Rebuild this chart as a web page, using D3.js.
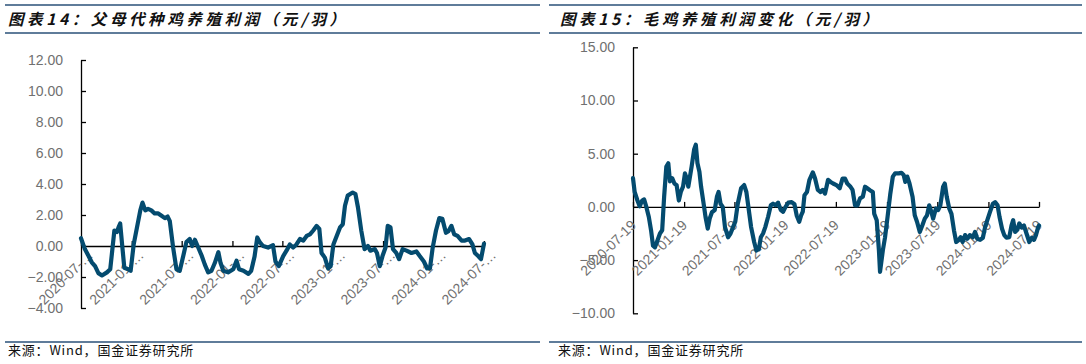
<!DOCTYPE html>
<html><head><meta charset="utf-8">
<script src="https://cdn.jsdelivr.net/npm/d3@7"></script>
<style>
html,body{margin:0;padding:0;background:#fff;}
svg{display:block;}
</style></head>
<body>
<svg id="c" width="1086" height="364"></svg>
<script>
// ---------- Chart 14: 父母代种鸡养殖利润 ----------
const title14 = "图表14：父母代种鸡养殖利润（元/羽）";
const dates14 = ["2020-07-01","2020-07-15","2020-07-27","2020-08-09","2020-08-21","2020-09-02","2020-09-15","2020-10-03","2020-10-15","2020-10-21","2020-10-30","2020-11-08","2020-11-14","2020-11-20","2020-11-26","2020-12-05","2020-12-19","2020-12-28","2021-01-08","2021-01-20","2021-02-01","2021-02-09","2021-02-19","2021-03-01","2021-03-13","2021-03-25","2021-04-07","2021-04-19","2021-05-01","2021-05-11","2021-05-19","2021-05-31","2021-06-12","2021-06-24","2021-07-06","2021-07-18","2021-07-30","2021-08-08","2021-08-18","2021-08-30","2021-09-11","2021-09-23","2021-10-05","2021-10-17","2021-10-29","2021-11-11","2021-11-19","2021-11-29","2021-12-16","2022-01-04","2022-01-16","2022-01-25","2022-02-10","2022-02-28","2022-03-10","2022-03-22","2022-04-01","2022-04-10","2022-04-22","2022-05-10","2022-05-28","2022-06-06","2022-06-18","2022-07-04","2022-07-16","2022-07-28","2022-08-09","2022-08-21","2022-09-03","2022-09-15","2022-09-27","2022-10-09","2022-10-21","2022-11-02","2022-11-12","2022-11-20","2022-12-02","2022-12-14","2022-12-23","2023-01-02","2023-01-14","2023-01-26","2023-02-05","2023-02-13","2023-02-23","2023-03-04","2023-03-13","2023-03-23","2023-04-01","2023-04-13","2023-04-25","2023-05-07","2023-05-16","2023-06-01","2023-06-09","2023-06-19","2023-06-29","2023-07-10","2023-07-18","2023-07-28","2023-08-06","2023-08-18","2023-08-28","2023-09-10","2023-09-24","2023-10-12","2023-10-30","2023-11-11","2023-11-26","2023-12-08","2023-12-18","2023-12-28","2024-01-09","2024-01-21","2024-02-01","2024-02-14","2024-02-23","2024-03-05","2024-03-15","2024-03-27","2024-04-11","2024-04-23","2024-05-08","2024-05-20","2024-05-29","2024-06-10","2024-06-20","2024-07-01"];
const values14 = [0.5,-0.2,-0.6,-1.05,-1.3,-1.75,-1.9,-1.7,-1.5,-0.5,1.0,0.9,1.2,1.45,0.3,-1.4,-1.5,-1.6,0.1,1.2,2.3,2.8,2.3,2.4,2.3,2.1,2.1,1.95,1.8,1.9,1.6,-0.1,-1.5,-1.6,-0.7,0.25,0.45,0,0.4,-0.1,-0.6,-1.2,-1.7,-1.6,-1.1,-0.4,-1.1,-1.6,-1.7,-1.5,-0.95,-1.5,-1.6,-1.8,-1.6,-0.7,0.55,0.25,0,-0.1,0.05,-1.0,-1.3,-0.65,-0.3,0.1,-0.1,0.1,0.45,0.35,0.65,0.75,1.0,1.3,1.1,-0.45,-0.75,-1.45,-1.3,0.1,0.65,1.2,1.4,2.6,3.25,3.35,3.45,3.35,2.5,1.0,-0.2,0,-0.3,-0.2,-0.45,-1.3,-0.65,-0.1,1.3,1.2,-0.2,-0.45,-0.85,-0.2,-0.3,-0.45,-0.35,-0.65,-1.0,-1.45,-1.45,-0.1,1.0,1.8,1.75,0.85,0.95,1.3,0.75,0.65,0.35,0.35,0.45,0.1,-0.45,-0.65,-0.85,0.15];
const yTicks14 = [-4,-2,0,2,4,6,8,10,12];
const xTickDates14 = ["2020-07-01","2021-01-01","2021-07-01","2022-01-01","2022-07-01","2023-01-01","2023-07-01","2024-01-01","2024-07-01"];
const xTickLabels14 = ["2020-07-…","2021-01-…","2021-07-…","2022-01-…","2022-07-…","2023-01-…","2023-07-…","2024-01-…","2024-07-…"];

// ---------- Chart 15: 毛鸡养殖利润变化 ----------
const title15 = "图表15：毛鸡养殖利润变化（元/羽）";
const dates15 = ["2020-07-19","2020-07-25","2020-08-04","2020-08-12","2020-08-21","2020-08-28","2020-09-05","2020-09-14","2020-09-22","2020-09-29","2020-10-06","2020-10-15","2020-10-24","2020-11-01","2020-11-08","2020-11-16","2020-11-23","2020-11-29","2020-12-07","2020-12-15","2020-12-23","2020-12-31","2021-01-07","2021-01-15","2021-01-22","2021-01-28","2021-02-03","2021-02-09","2021-02-15","2021-02-24","2021-03-02","2021-03-08","2021-03-15","2021-03-21","2021-03-31","2021-04-06","2021-04-14","2021-04-21","2021-04-29","2021-05-09","2021-05-17","2021-05-23","2021-05-30","2021-06-07","2021-06-15","2021-06-26","2021-07-05","2021-07-14","2021-07-22","2021-07-31","2021-08-12","2021-08-23","2021-08-31","2021-09-08","2021-09-17","2021-09-28","2021-10-06","2021-10-15","2021-10-22","2021-10-30","2021-11-07","2021-11-17","2021-11-27","2021-12-05","2021-12-14","2021-12-23","2022-01-02","2022-01-10","2022-01-19","2022-01-29","2022-02-10","2022-02-20","2022-02-28","2022-03-09","2022-03-16","2022-03-22","2022-03-28","2022-04-06","2022-04-15","2022-04-27","2022-05-05","2022-05-15","2022-05-25","2022-06-02","2022-06-10","2022-06-21","2022-06-30","2022-07-09","2022-07-21","2022-08-02","2022-08-12","2022-08-21","2022-08-29","2022-09-08","2022-09-17","2022-09-26","2022-10-05","2022-10-14","2022-10-24","2022-11-01","2022-11-09","2022-11-20","2022-11-29","2022-12-04","2022-12-13","2022-12-21","2022-12-25","2023-01-04","2023-01-12","2023-01-21","2023-01-31","2023-02-09","2023-02-17","2023-03-02","2023-03-12","2023-03-20","2023-03-26","2023-04-02","2023-04-10","2023-04-21","2023-04-29","2023-05-07","2023-05-17","2023-05-26","2023-06-04","2023-06-12","2023-06-20","2023-06-28","2023-07-04","2023-07-14","2023-07-22","2023-07-30","2023-08-09","2023-08-15","2023-08-22","2023-08-31","2023-09-08","2023-09-17","2023-09-25","2023-10-03","2023-10-11","2023-10-18","2023-10-27","2023-11-04","2023-11-13","2023-11-24","2023-12-02","2023-12-10","2023-12-20","2023-12-30","2024-01-07","2024-01-15","2024-01-25","2024-02-04","2024-02-12","2024-02-21","2024-02-28","2024-03-08","2024-03-16","2024-03-24","2024-04-03","2024-04-11","2024-04-17","2024-04-24","2024-05-02","2024-05-09","2024-05-18","2024-05-26","2024-06-04","2024-06-14","2024-06-23","2024-07-01","2024-07-08","2024-07-16","2024-07-19"];
const values15 = [2.7,1.4,0.6,0.05,0.6,0.7,0,-0.95,-2.2,-3.65,-3.8,-3.15,-2.5,-2.2,0.95,3.8,4.1,2.4,2.7,2.2,2.05,0.6,1.4,1.9,3.15,2.7,1.9,2.85,3.8,5.4,5.85,4.1,3.3,1.9,0.15,-0.95,-2.05,-1.1,-0.5,-0.3,0.95,1.4,0.3,0,-1.9,-2.85,-2.5,-1.9,-1.4,0.3,1.75,2.05,1.4,-0.15,-1.9,-3.3,-4.1,-3.95,-2.85,-2.5,-1.9,-0.95,0.15,0.3,0.15,0.4,-0.3,-0.45,0,0.4,0.45,0.25,-0.8,-1.4,-0.8,-0.45,1.1,1.4,2.55,3.25,2.7,1.6,1.4,1.6,1.25,2.55,2.35,2.2,2.05,1.75,2.65,2.65,2.2,1.95,1.6,0.15,0.15,0.8,0.95,1.9,1.75,1.55,1.4,-0.65,-1.25,-4.1,-6.1,-4.1,-2.85,-0.95,1.25,2.85,3.15,3.15,3.2,3.0,2.35,2.85,2.2,0.95,-0.8,-1.4,-2.35,-1.75,-1.1,-0.8,0.15,-0.5,-1.1,-0.15,-0.3,0.15,1.9,2.2,0.95,-0.15,-0.65,-2.2,-3.3,-3.15,-2.85,-3.3,-2.65,-3.0,-2.65,-2.85,-2.35,-3.0,-3.1,-2.9,-1.9,-1.25,-0.45,0.3,0.45,0.15,-0.95,-2.05,-2.65,-2.9,-2.85,-1.75,-1.25,-2.35,-2.15,-1.55,-1.95,-1.75,-2.5,-3.3,-2.9,-3.1,-2.65,-1.9,-1.75];
const yTicks15 = [-10,-5,0,5,10,15];
const xTickDates15 = ["2020-07-19","2021-01-19","2021-07-19","2022-01-19","2022-07-19","2023-01-19","2023-07-19","2024-01-19","2024-07-19"];
const xTickLabels15 = ["2020-07-19","2021-01-19","2021-07-19","2022-01-19","2022-07-19","2023-01-19","2023-07-19","2024-01-19","2024-07-19"];

const source = "来源：Wind，国金证券研究所";

// ---------- drawing ----------
const svg = d3.select("#c");
const parse = d3.timeParse("%Y-%m-%d");
const LINE = "#044b6f", RULE = "#2a5078", LABEL = "#707070";
const FONT = "'Liberation Sans', Arial, sans-serif";
const CJK = "'Noto Sans CJK SC', sans-serif";

function panel(o) {
  const g = svg.append("g");
  g.append("line").attr("x1", o.ruleX0).attr("x2", o.ruleX1).attr("y1", 5).attr("y2", 5)
    .attr("stroke", RULE).attr("stroke-width", 1.6);
  g.append("line").attr("x1", o.ruleX0).attr("x2", o.ruleX1).attr("y1", 33).attr("y2", 33)
    .attr("stroke", RULE).attr("stroke-width", 1.6);
  g.append("text").attr("x", o.titleX).attr("y", 25).text(o.title)
    .attr("font-family", CJK).attr("font-size", 15.5).attr("font-weight", 700)
    .attr("font-style", "italic").attr("letter-spacing", o.titleSpacing).attr("fill", "#111");
  g.append("line").attr("x1", o.ruleX0).attr("x2", o.ruleX1).attr("y1", 342).attr("y2", 342)
    .attr("stroke", RULE).attr("stroke-width", 1.4);
  g.append("text").attr("x", o.sourceX).attr("y", 355).text(source)
    .attr("font-family", CJK).attr("font-size", 13).attr("letter-spacing", 0.8).attr("fill", "#111");

  const x = d3.scaleTime().domain(o.xDomain.map(parse)).range(o.xRange);
  const y = d3.scaleLinear().domain(o.yDomain).range(o.yRange);

  const ya = d3.axisLeft(y).tickValues(o.yTicks).tickSizeInner(-5).tickSizeOuter(0)
    .tickPadding(18).tickFormat(d3.format(".2f"));
  const yg = g.append("g").attr("transform", `translate(${o.xRange[0]},0)`).call(ya);
  yg.select(".domain").attr("stroke", "#000").attr("stroke-width", 1.3);
  yg.selectAll(".tick line").attr("stroke", "#000").attr("stroke-width", 1.3);
  yg.selectAll(".tick text").attr("font-family", FONT).attr("font-size", 14).attr("fill", LABEL);

  const xa = d3.axisBottom(x).tickValues(o.xTicks.map(parse)).tickSizeInner(-5).tickSizeOuter(0).tickFormat("");
  const xg = g.append("g").attr("transform", `translate(0,${y(0)})`).call(xa);
  xg.select(".domain").attr("stroke", "#000").attr("stroke-width", 1.3);
  xg.selectAll(".tick line").attr("stroke", "#000").attr("stroke-width", 1.3);

  g.append("g").selectAll("text").data(o.xTicks).join("text")
    .attr("transform", d => `translate(${x(parse(d)) + o.lblDx},${y(0) + o.lblDy}) rotate(-45)`)
    .attr("text-anchor", "end")
    .attr("font-family", FONT).attr("font-size", 14).attr("fill", LABEL)
    .text((d, i) => o.xLabels[i]);

  const pts = o.dates.map((d, i) => [parse(d), o.values[i]]);
  g.append("path").datum(pts)
    .attr("fill", "none").attr("stroke", LINE).attr("stroke-width", 4.2)
    .attr("stroke-linejoin", "round").attr("stroke-linecap", "round")
    .attr("d", d3.line().x(d => x(d[0])).y(d => y(d[1])));
}

panel({
  title: title14, titleX: 8, titleSpacing: 3.6, ruleX0: 5, ruleX1: 540, sourceX: 8,
  xDomain: ["2020-07-01", "2024-07-01"], xRange: [81, 484],
  yDomain: [-4, 12], yRange: [308, 60], yTicks: yTicks14,
  xTicks: xTickDates14, xLabels: xTickLabels14, lblDx: 13, lblDy: 10,
  dates: dates14, values: values14
});
panel({
  title: title15, titleX: 560, titleSpacing: 3.6, ruleX0: 549, ruleX1: 1082, sourceX: 558,
  xDomain: ["2020-07-19", "2024-07-19"], xRange: [633, 1039],
  yDomain: [-10, 15], yRange: [313.3, 47.3], yTicks: yTicks15,
  xTicks: xTickDates15, xLabels: xTickLabels15, lblDx: 4, lblDy: 19,
  dates: dates15, values: values15
});
</script>
</body></html>
